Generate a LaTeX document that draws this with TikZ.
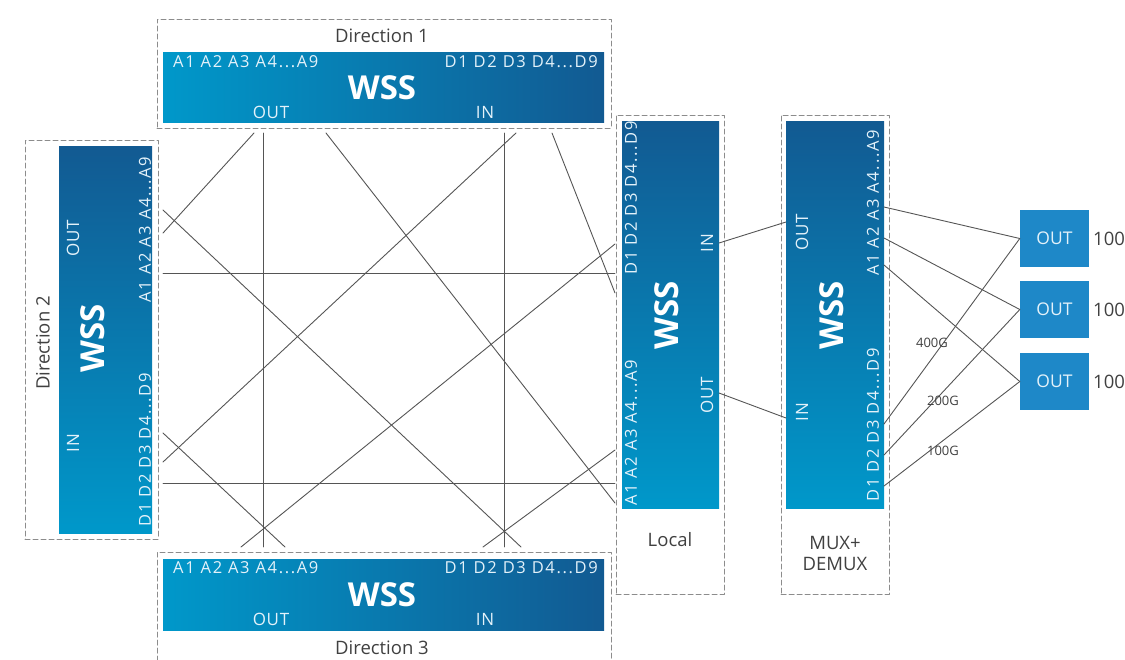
\documentclass[tikz,border=0pt]{standalone}
\usepackage{fontspec}
\setmainfont{Open Sans}
\definecolor{wsslight}{RGB}{0,152,202}
\definecolor{wssdark}{RGB}{18,90,146}
\definecolor{outblue}{RGB}{30,136,200}
\definecolor{wirec}{RGB}{85,85,85}
\definecolor{txt}{RGB}{64,64,64}
\definecolor{lbl}{RGB}{228,242,250}
\begin{document}
\begin{tikzpicture}[x=1pt,y=-1pt, line join=round, line cap=round,
    frame/.style={draw=black!45, dash pattern=on 5pt off 3pt, line width=1pt, inner sep=0pt},
    hbox/.style={left color=wsslight, right color=wssdark, inner sep=0pt},
    vbox/.style={top color=wssdark, bottom color=wsslight, inner sep=0pt},
    port/.style={text=lbl, font=\fontsize{16.5}{17}\selectfont\addfontfeature{LetterSpace=10}, inner sep=0pt},
    dir/.style={text=lbl, font=\fontsize{17}{17}\selectfont\addfontfeature{LetterSpace=4}, inner sep=0pt},
    big/.style={text=white, font=\bfseries\fontsize{33}{33}\selectfont, inner sep=0pt},
    captext/.style={text=txt, font=\fontsize{18.5}{21}\selectfont, inner sep=0pt, align=center},
    rate/.style={text=txt, font=\fontsize{13}{13}\selectfont, inner sep=0pt},
    outbox/.style={fill=outblue, minimum width=69pt, minimum height=57pt, inner sep=0pt, text=lbl, font=\fontsize{17.5}{17.5}\selectfont},
    wire/.style={draw=wirec, line width=0.9pt}]
    \useasboundingbox (0,0) rectangle (1125,659);
    \clip (0,0) rectangle (1125,659);

    \node[frame, minimum width=454pt, minimum height=109pt] (f1) at (384,73.5) {};
    \node[hbox, minimum width=441pt, minimum height=70pt] (w1) at (383.5,87) {};
    \node[captext] (c1) at (382,36) {Direction 1};
    \node[port, anchor=west] (w1a) at (173,62) {A1 A2 A3 A4...A9};
    \node[port, anchor=east] (w1d) at (598,62) {D1 D2 D3 D4...D9};
    \node[big] (w1n) at (382,88) {WSS};
    \node[dir] (w1o) at (271,112) {OUT};
    \node[dir] (w1i) at (485,112) {IN};

    \node[frame, minimum width=133pt, minimum height=399pt] (f2) at (91.5,339.5) {};
    \node[vbox, minimum width=93pt, minimum height=387pt] (w2) at (105.5,339.5) {};
    \node[captext, rotate=90] (c2) at (43,343) {Direction 2};
    \node[port, rotate=90] (w2a) at (145,229.5) {A1 A2 A3 A4...A9};
    \node[port, rotate=90] (w2d) at (145,450) {D1 D2 D3 D4...D9};
    \node[big, rotate=90] (w2n) at (93,338) {WSS};
    \node[dir, rotate=90] (w2o) at (73,238) {OUT};
    \node[dir, rotate=90] (w2i) at (73,443) {IN};

    \node[frame, minimum width=454pt, minimum height=116pt] (f3) at (384,610) {};
    \node[hbox, minimum width=441pt, minimum height=71pt] (w3) at (383.5,594.5) {};
    \node[captext] (c3) at (382,648) {Direction 3};
    \node[port, anchor=west] (w3a) at (173,568) {A1 A2 A3 A4...A9};
    \node[port, anchor=east] (w3d) at (598,568) {D1 D2 D3 D4...D9};
    \node[big] (w3n) at (382,595) {WSS};
    \node[dir] (w3o) at (271,619) {OUT};
    \node[dir] (w3i) at (485,619) {IN};

    \node[frame, minimum width=108pt, minimum height=479pt] (fl) at (670,354.5) {};
    \node[vbox, minimum width=97pt, minimum height=387pt] (wl) at (670.5,314.5) {};
    \node[port, rotate=90] (wld) at (631,198) {D1 D2 D3 D4...D9};
    \node[port, rotate=90] (wla) at (631,433) {A1 A2 A3 A4...A9};
    \node[big, rotate=90] (wln) at (667,315) {WSS};
    \node[dir, rotate=90] (wli) at (707,243) {IN};
    \node[dir, rotate=90] (wlo) at (707,395) {OUT};
    \node[captext] (cl) at (670,540) {Local};

    \node[frame, minimum width=108pt, minimum height=479pt] (fm) at (835,354.5) {};
    \node[vbox, minimum width=98pt, minimum height=387pt] (wm) at (835,314.5) {};
    \node[port, rotate=90] (wma) at (873,203) {A1 A2 A3 A4...A9};
    \node[port, rotate=90] (wmd) at (873,425) {D1 D2 D3 D4...D9};
    \node[big, rotate=90] (wmn) at (832,315) {WSS};
    \node[dir, rotate=90] (wmo) at (802,232) {OUT};
    \node[dir, rotate=90] (wmi) at (802,412) {IN};
    \node[captext] (cm) at (835,553) {MUX+\\DEMUX};

    \node[outbox] (o1) at (1054.5,238.5) {OUT};
    \node[outbox] (o2) at (1054.5,309.5) {OUT};
    \node[outbox] (o3) at (1054.5,381.5) {OUT};
    \node[captext, anchor=west] (g1) at (1093,238.5) {100};
    \node[captext, anchor=west] (g2) at (1093,309.5) {100};
    \node[captext, anchor=west] (g3) at (1093,381.5) {100};

    \foreach \n/\x in {1/254,2/263,3/326,4/504,5/516,6/552}
        \coordinate (t\n) at (\x,133);
    \foreach \n/\y in {1/210,2/233,3/273,4/433,5/462,6/483}
        \coordinate (l\n) at (163,\y);
    \foreach \n/\y in {1/244,2/273,3/293,4/450,5/483,6/503}
        \coordinate (r\n) at (615,\y);
    \foreach \n/\x in {1/241,2/263,3/285,4/483,5/504,6/521}
        \coordinate (b\n) at (\x,547);

    \draw[wire] (t1) -- (l2);
    \draw[wire] (t2) -- (b2);
    \draw[wire] (t3) -- (r6);
    \draw[wire] (t4) -- (b5);
    \draw[wire] (t5) -- (l5);
    \draw[wire] (t6) -- (r3);
    \draw[wire] (l1) -- (b6);
    \draw[wire] (l3) -- (r2);
    \draw[wire] (r1) -- (b1);
    \draw[wire] (l4) -- (b3);
    \draw[wire] (l6) -- (r5);
    \draw[wire] (r4) -- (b4);

    \coordinate (lin) at (719,243);
    \coordinate (lout) at (719,393);
    \coordinate (mout) at (786,222);
    \coordinate (min) at (786,418);
    \draw[wire] (lin) -- (mout);
    \draw[wire] (lout) -- (min);

    \coordinate (ma3) at (884,207);
    \coordinate (ma2) at (884,238);
    \coordinate (ma1) at (884,265);
    \coordinate (md3) at (884,424);
    \coordinate (md2) at (884,455);
    \coordinate (md1) at (884,486);
    \draw[wire] (ma3) -- (o1.west);
    \draw[wire] (ma2) -- (o2.west);
    \draw[wire] (ma1) -- (o3.west);
    \draw[wire] (md3) -- (o1.west);
    \draw[wire] (md2) -- (o2.west);
    \draw[wire] (md1) -- (o3.west);
    \node[rate] (r400) at (932,343) {400G};
    \node[rate] (r200) at (943,401) {200G};
    \node[rate] (r100) at (943,451) {100G};
\end{tikzpicture}
\end{document}
